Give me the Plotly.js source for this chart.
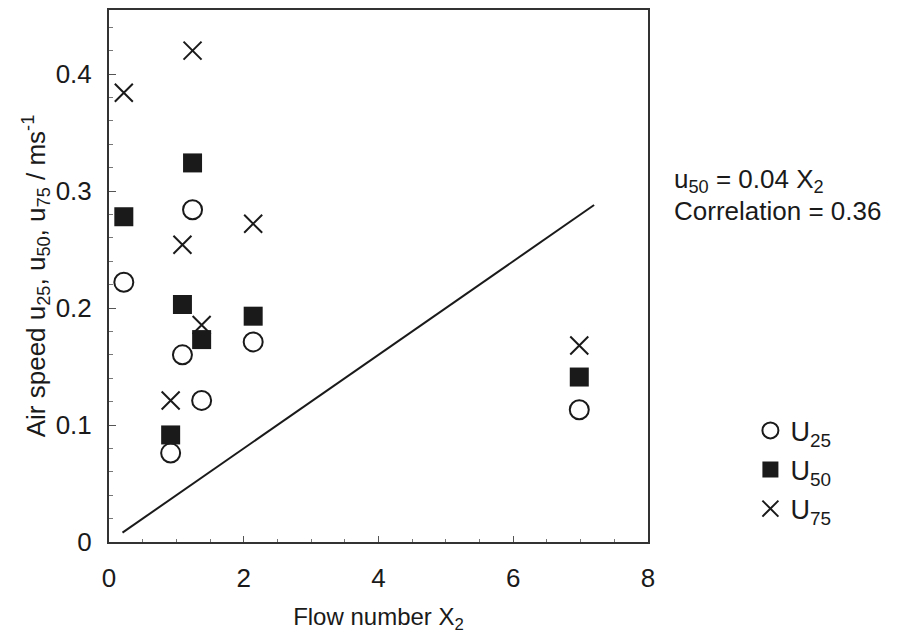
<!DOCTYPE html>
<html><head><meta charset="utf-8">
<script src="https://cdn.plot.ly/plotly-3.0.1.min.js"></script>
<style>html,body{margin:0;padding:0;background:#fff}</style>
</head><body><div id="chart" style="width:898px;height:634px"></div>
<script>
// Data
const flowX = [0.22, 0.915, 1.09, 1.24, 1.375, 2.14, 6.98];
const u25 = [0.222, 0.076, 0.160, 0.284, 0.121, 0.171, 0.113];
const u50 = [0.278, 0.0915, 0.203, 0.324, 0.173, 0.193, 0.141];
const u75 = [0.384, 0.121, 0.254, 0.420, 0.1855, 0.272, 0.168];
const fitX = [0.2, 7.2];
const fitY = [0.008, 0.288];
const xTicks = [0, 2, 4, 6, 8];
const yTicks = [0, 0.1, 0.2, 0.3, 0.4];
const yTickText = ['0', '0.1', '0.2', '0.3', '0.4'];
const seriesNames = ['U<sub>25</sub>', 'U<sub>50</sub>', 'U<sub>75</sub>'];

const ink = '#1a1a1a';
const traces = [
  {x: fitX, y: fitY, mode: 'lines', line: {color: ink, width: 2}, showlegend: false, hoverinfo: 'skip'},
  {x: flowX, y: u75, mode: 'markers', name: seriesNames[2], legendrank: 3, legendgroup: 'c',
   marker: {symbol: 'x-thin-open', size: 18, line: {color: ink, width: 2}, color: ink}},
  {x: flowX, y: u25, mode: 'markers', name: seriesNames[0], legendrank: 1, legendgroup: 'a',
   marker: {symbol: 'circle-open', size: 19, line: {color: ink, width: 2}, color: ink}},
  {x: flowX, y: u50, mode: 'markers', name: seriesNames[1], legendrank: 2, legendgroup: 'b',
   marker: {symbol: 'square', size: 19, color: ink, line: {width: 0}}}
];

const axisCommon = {
  showgrid: false, zeroline: false, showline: true, mirror: true,
  linecolor: '#333', linewidth: 2, ticks: 'inside', tickcolor: '#555', tickwidth: 1,
  tickfont: {size: 26, color: ink}
};

const layout = {
  width: 898, height: 634,
  margin: {l: 109, r: 250, t: 10, b: 92},
  paper_bgcolor: '#fff', plot_bgcolor: '#fff',
  font: {family: 'Liberation Sans, Arial, sans-serif', color: ink, size: 26},
  xaxis: Object.assign({}, axisCommon, {
    range: [0, 8], tickvals: xTicks, ticklen: 6,
    minor: {dtick: 0.5, ticks: 'inside', ticklen: 3, tickcolor: '#777'},
    ticklabelstandoff: 12,
    title: {text: 'Flow number X<sub>2</sub>', font: {size: 24, color: ink}, standoff: 20}
  }),
  yaxis: Object.assign({}, axisCommon, {
    range: [0, 0.4547], tickvals: yTicks, ticktext: yTickText, ticklen: 7,
    minor: {dtick: 0.02, ticks: 'inside', ticklen: 4, tickcolor: '#777'},
    ticklabelstandoff: 10,
    title: {text: 'Air speed u<sub>25</sub>, u<sub>50</sub>, u<sub>75</sub> / ms<sup>-1</sup>', font: {size: 26, color: ink}, standoff: 3}
  }),
  legend: {x: 1.19, xanchor: 'left', y: 0.255, yanchor: 'top', font: {size: 27, color: ink},
    bgcolor: 'rgba(0,0,0,0)', traceorder: 'grouped', tracegroupgap: 1, itemwidth: 30},
  annotations: [
    {xref: 'paper', yref: 'paper', x: 1.045, y: 0.68, xanchor: 'left', yanchor: 'middle', showarrow: false,
     align: 'left', text: 'u<sub>50</sub> = 0.04 X<sub>2</sub>', font: {size: 26, color: ink}},
    {xref: 'paper', yref: 'paper', x: 1.045, y: 0.622, xanchor: 'left', yanchor: 'middle', showarrow: false,
     align: 'left', text: 'Correlation = 0.36', font: {size: 26, color: ink}}
  ],
  showlegend: true
};

Plotly.newPlot('chart', traces, layout, {staticPlot: true, displayModeBar: false});
</script>
</body></html>
